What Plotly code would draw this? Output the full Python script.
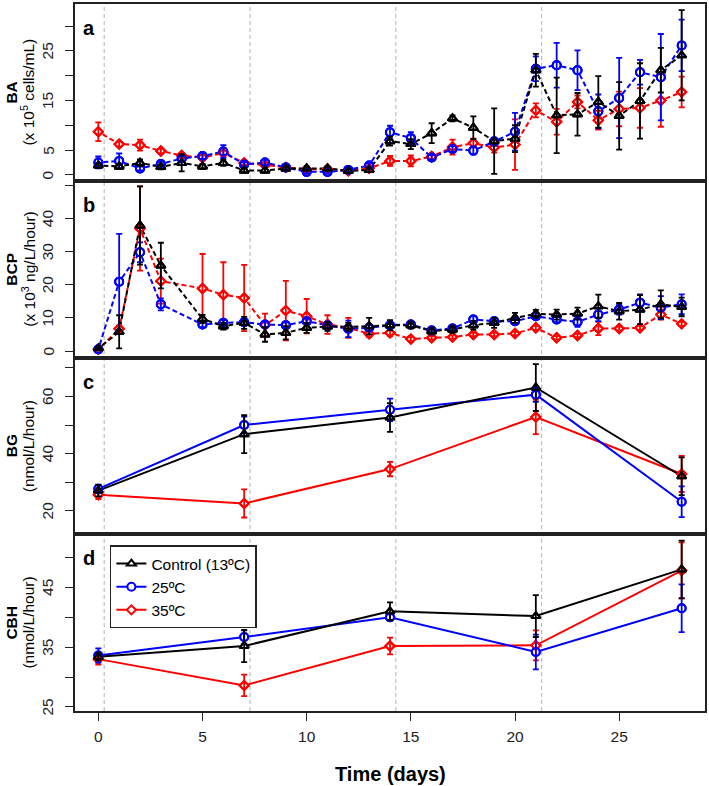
import plotly.graph_objects as go

# ---------------- data ----------------
days_ba = list(range(0, 29))
ba_ctrl = [1.9, 1.7, 2.4, 1.6, 2.4, 1.7, 2.4, 0.9, 0.9, 1.3, 1.3, 1.3, 0.8, 1.0, 6.8, 6.2, 8.4, 11.4, 9.5, 6.8, 7.3, 21.1, 12.0, 12.2, 14.7, 11.9, 14.9, 21.1, 24.1]
ba_ctrl_sd = [0.5, 0.5, 0.7, 0.5, 1.7, 0.5, 0.6, 0.4, 0.4, 0.4, 0.4, 0.4, 0.4, 0.4, 0.9, 1.0, 2.0, 0.6, 2.3, 6.6, 2.7, 3.3, 7.6, 4.3, 5.2, 6.8, 7.6, 4.5, 9.1]
ba_25 = [2.5, 2.8, 1.3, 2.2, 3.3, 3.8, 4.7, 2.1, 2.5, 1.5, 0.6, 0.6, 1.0, 1.9, 8.6, 7.4, 3.5, 5.2, 4.9, 6.7, 8.7, 21.4, 22.1, 21.1, 12.8, 15.5, 20.7, 19.7, 26.1]
ba_25_sd = [1.2, 1.5, 0.4, 0.4, 0.5, 0.6, 1.3, 0.4, 0.5, 0.4, 0.3, 0.3, 0.4, 0.4, 1.3, 1.2, 0.5, 0.6, 0.8, 0.8, 3.8, 2.5, 4.5, 4.0, 3.4, 8.1, 2.5, 8.7, 5.2]
ba_35 = [8.7, 6.2, 6.0, 4.8, 3.9, 3.5, 4.4, 2.4, 2.0, 1.5, 1.1, 1.2, 0.8, 1.3, 2.8, 2.8, 3.7, 5.6, 6.4, 5.5, 6.1, 13.0, 10.7, 14.7, 11.0, 13.3, 13.5, 15.0, 16.7]
ba_35_sd = [1.9, 0.5, 1.1, 0.5, 0.5, 0.6, 0.5, 0.4, 0.4, 0.3, 0.3, 0.3, 0.3, 0.3, 1.0, 1.1, 0.5, 1.5, 0.9, 1.0, 5.1, 1.4, 2.6, 1.3, 1.9, 3.5, 4.0, 5.3, 3.1]

days_bcp = [0, 1, 2, 3] + list(range(5, 29))
bcp_ctrl = [0.8, 5.8, 37.9, 25.8, 9.7, 7.5, 8.5, 5.0, 5.5, 7.0, 7.4, 7.3, 7.5, 7.8, 7.8, 6.0, 6.5, 7.8, 8.5, 10.0, 11.2, 11.0, 11.3, 13.5, 12.0, 12.5, 14.1, 13.3]
bcp_ctrl_sd = [0.3, 5.0, 11.8, 6.9, 1.2, 1.0, 1.8, 2.2, 2.0, 1.5, 1.3, 1.2, 2.5, 1.5, 1.0, 1.0, 1.0, 1.3, 1.5, 1.5, 1.2, 1.5, 1.8, 3.5, 2.5, 4.4, 4.2, 2.8]
bcp_25 = [0.5, 20.9, 29.8, 14.1, 8.0, 8.5, 8.7, 8.0, 7.8, 9.0, 7.8, 6.7, 7.0, 7.8, 8.0, 6.2, 6.8, 9.5, 9.0, 9.0, 10.5, 9.5, 8.8, 11.0, 12.5, 14.6, 13.1, 14.1]
bcp_25_sd = [0.3, 14.5, 3.0, 1.8, 0.8, 0.8, 1.0, 0.8, 0.8, 0.8, 0.8, 2.5, 0.8, 0.8, 0.8, 0.6, 0.6, 1.0, 0.8, 0.8, 0.8, 0.8, 1.5, 2.0, 1.5, 2.5, 3.5, 3.0]
bcp_35 = [0.5, 6.7, 37.0, 21.1, 18.9, 17.0, 16.0, 7.8, 12.2, 10.5, 8.0, 7.0, 5.2, 5.5, 3.6, 4.0, 4.2, 5.0, 5.0, 5.3, 7.0, 4.0, 4.7, 6.8, 6.8, 7.0, 11.0, 8.2]
bcp_35_sd = [0.3, 1.0, 12.7, 6.8, 10.4, 9.8, 10.0, 3.5, 9.0, 5.2, 2.8, 3.0, 1.0, 1.0, 0.6, 0.5, 0.5, 0.5, 0.5, 0.5, 0.6, 0.5, 0.5, 2.0, 0.6, 0.6, 1.5, 0.6]

days_weekly = [0, 7, 14, 21, 28]
bg_ctrl = [27.1, 46.8, 52.6, 63.1, 32.1]
bg_ctrl_sd = [2.0, 6.6, 5.0, 8.2, 6.6]
bg_25 = [27.7, 50.0, 55.3, 60.6, 23.2]
bg_25_sd = [1.5, 2.9, 3.9, 2.5, 5.4]
bg_35 = [25.6, 22.6, 34.6, 52.8, 32.9]
bg_35_sd = [1.5, 4.9, 2.5, 6.0, 6.3]

cbh_ctrl = [33.4, 35.2, 41.0, 40.2, 48.0]
cbh_ctrl_sd = [0.6, 2.7, 1.5, 3.5, 4.8]
cbh_25 = [33.6, 36.7, 40.0, 34.2, 41.5]
cbh_25_sd = [1.2, 1.1, 0.5, 2.9, 4.0]
cbh_35 = [33.0, 28.6, 35.2, 35.3, 47.8]
cbh_35_sd = [0.9, 1.8, 1.4, 2.5, 4.7]

sampling_days = [0.28, 7.28, 14.28, 21.28]
x_ticks = [0, 5, 10, 15, 20, 25]

series_names = ["Control (13ºC)", "25ºC", "35ºC"]
series_colors = ["black", "#0000ff", "#ff0000"]
series_symbols = ["triangle-up", "circle", "diamond"]
series_sizes = [8, 8, 7]

panels = [
    dict(letter="a", x=days_ba, ys=[ba_ctrl, ba_25, ba_35], sds=[ba_ctrl_sd, ba_25_sd, ba_35_sd],
         dashed=True, yrange=[-1.2, 34.45], tickvals=[0, 5, 10, 15, 20, 25, 30],
         ticktext=["0", "5", "", "15", "", "25", ""],
         title1="<b>BA</b>", title2="(x 10<sup>5</sup> cells/mL)"),
    dict(letter="b", x=days_bcp, ys=[bcp_ctrl, bcp_25, bcp_35], sds=[bcp_ctrl_sd, bcp_25_sd, bcp_35_sd],
         dashed=True, yrange=[-2.2, 51.4], tickvals=[0, 10, 20, 30, 40, 50],
         ticktext=["0", "10", "20", "30", "40", ""],
         title1="<b>BCP</b>", title2="(x 10<sup>3</sup> ng/L/hour)"),
    dict(letter="c", x=days_weekly, ys=[bg_ctrl, bg_25, bg_35], sds=[bg_ctrl_sd, bg_25_sd, bg_35_sd],
         dashed=False, yrange=[12.0, 73.3], tickvals=[20, 30, 40, 50, 60, 70],
         ticktext=["20", "", "40", "", "60", ""],
         title1="<b>BG</b>", title2="(nmol/L/hour)"),
    dict(letter="d", x=days_weekly, ys=[cbh_ctrl, cbh_25, cbh_35], sds=[cbh_ctrl_sd, cbh_25_sd, cbh_35_sd],
         dashed=False, yrange=[24.33, 53.95], tickvals=[25, 30, 35, 40, 45, 50],
         ticktext=["25", "", "35", "", "45", ""],
         title1="<b>CBH</b>", title2="(nmol/L/hour)"),
]

# ---------------- layout geometry ----------------
W, H = 709, 786
ML, MR, MT, MB = 75, 2, 2, 75
PW, PH = W - ML - MR, H - MT - MB
def px2x(px):
    return (px - ML) / PW
def py2y(py):
    return (H - MB - py) / PH

bounds = [2, 179.3, 357.3, 533.3, 711]
FONT = "Liberation Sans, Arial, Helvetica, sans-serif"
FRAME = "#222222"
TICKFS = 15.5

fig = go.Figure()
dash_pattern = "0px,5px," + ",".join(["5px,3px"] * 12)

for pi, p in enumerate(panels):
    xa = "x" if pi == 0 else f"x{pi + 1}"
    ya = "y" if pi == 0 else f"y{pi + 1}"
    order = [2, 1, 0]  # draw 35, 25, then control on top
    for si in order:
        xs, ys = [], []
        xv, yv = p["x"], p["ys"][si]
        if p["dashed"]:
            for i in range(len(xv) - 1):
                xs += [xv[i], xv[i + 1], None]
                ys += [yv[i], yv[i + 1], None]
        else:
            xs, ys = list(xv), list(yv)
        fig.add_trace(go.Scatter(
            x=xs, y=ys, mode="lines+markers", xaxis=xa, yaxis=ya,
            name=series_names[si], legendgroup=series_names[si],
            showlegend=(pi == 3), legendrank=si + 1,
            line=dict(color=series_colors[si], width=2,
                      dash=dash_pattern if p["dashed"] else "solid"),
            marker=dict(symbol=series_symbols[si], size=series_sizes[si], color="white",
                        line=dict(color=series_colors[si], width=2)),
            connectgaps=False, hoverinfo="skip"))
    for si in order:
        fig.add_trace(go.Scatter(
            x=p["x"], y=p["ys"][si], mode="markers", xaxis=xa, yaxis=ya,
            showlegend=False, legendgroup=series_names[si],
            marker=dict(symbol=series_symbols[si] + "-open", size=series_sizes[si],
                        color=series_colors[si], line=dict(color=series_colors[si], width=2)),
            error_y=dict(type="data", array=p["sds"][si], visible=True,
                         color=series_colors[si], thickness=1.8, width=3)))

layout = dict(
    width=W, height=H,
    margin=dict(l=ML, r=MR, t=MT, b=MB),
    paper_bgcolor="white", plot_bgcolor="white",
    font=dict(family=FONT, size=14, color=FRAME),
    showlegend=True,
    legend=dict(x=px2x(110), y=py2y(545), xanchor="left", yanchor="top",
                bordercolor=FRAME, borderwidth=1.5, bgcolor="white",
                font=dict(family=FONT, size=15.5, color="black"),
                tracegroupgap=0),
)

annotations = []
shapes = []
for pi, p in enumerate(panels):
    sx = "xaxis" if pi == 0 else f"xaxis{pi + 1}"
    sy = "yaxis" if pi == 0 else f"yaxis{pi + 1}"
    yref = "y" if pi == 0 else f"y{pi + 1}"
    top, bot = bounds[pi], bounds[pi + 1]
    layout[sx] = dict(
        domain=[0, 1], anchor="y" if pi == 0 else f"y{pi + 1}",
        range=[-1.12, 29.12], tickvals=x_ticks,
        showline=True, mirror=True, linecolor=FRAME, linewidth=1.5,
        showgrid=False, zeroline=False,
        ticks="outside" if pi == 3 else "", ticklen=8, tickwidth=1.2, tickcolor=FRAME,
        showticklabels=(pi == 3), ticklabelstandoff=3,
        tickfont=dict(family=FONT, size=TICKFS, color=FRAME),
    )
    if pi > 0:
        layout[sx]["matches"] = "x"
    layout[sy] = dict(
        domain=[py2y(bot), py2y(top) if pi > 0 else 1.0],
        anchor="x" if pi == 0 else f"x{pi + 1}",
        range=p["yrange"], tickvals=p["tickvals"],
        showline=True, mirror=True, linecolor=FRAME, linewidth=1.5,
        showgrid=False, zeroline=False,
        ticks="outside", ticklen=8, tickwidth=1.2, tickcolor=FRAME,
        showticklabels=False,
    )
    # rotated tick labels (R style, las=0)
    for tv, tt in zip(p["tickvals"], p["ticktext"]):
        if tt:
            annotations.append(dict(
                text=tt, xref="paper", yref=yref, x=px2x(47.5), y=tv,
                xanchor="center", yanchor="middle", textangle=-90, showarrow=False,
                font=dict(family=FONT, size=TICKFS, color=FRAME)))
    ymid = py2y((top + bot) / 2)
    annotations.append(dict(
        text=p["title1"], xref="paper", yref="paper",
        x=px2x(11), y=ymid, xanchor="center", yanchor="middle",
        textangle=-90, showarrow=False,
        font=dict(family=FONT, size=15.5, color="black")))
    annotations.append(dict(
        text=p["title2"], xref="paper", yref="paper",
        x=px2x(28), y=ymid, xanchor="center", yanchor="middle",
        textangle=-90, showarrow=False,
        font=dict(family=FONT, size=15.5, color="black")))
    annotations.append(dict(
        text="<b>" + p["letter"] + "</b>", xref="paper", yref="paper",
        x=px2x(81), y=py2y(top + 24), xanchor="left", yanchor="middle",
        showarrow=False, font=dict(family=FONT, size=20, color="black")))

annotations.append(dict(
    text="<b>Time (days)</b>", xref="paper", yref="paper",
    x=px2x(391), y=py2y(774), xanchor="center", yanchor="middle", showarrow=False,
    font=dict(family="Liberation Sans Narrow, " + FONT, size=20, color="black")))

for d in sampling_days:
    shapes.append(dict(type="line", xref="x", yref="paper", x0=d, x1=d, y0=0, y1=1,
                       layer="below", line=dict(color="#b0b0b0", width=1, dash="4px,3px")))

layout["annotations"] = annotations
layout["shapes"] = shapes
fig.update_layout(**layout)

fig.write_html("out.html", config={"displayModeBar": False},
               post_script="document.body.style.margin='0';document.body.style.padding='0';document.body.style.overflow='hidden';")
